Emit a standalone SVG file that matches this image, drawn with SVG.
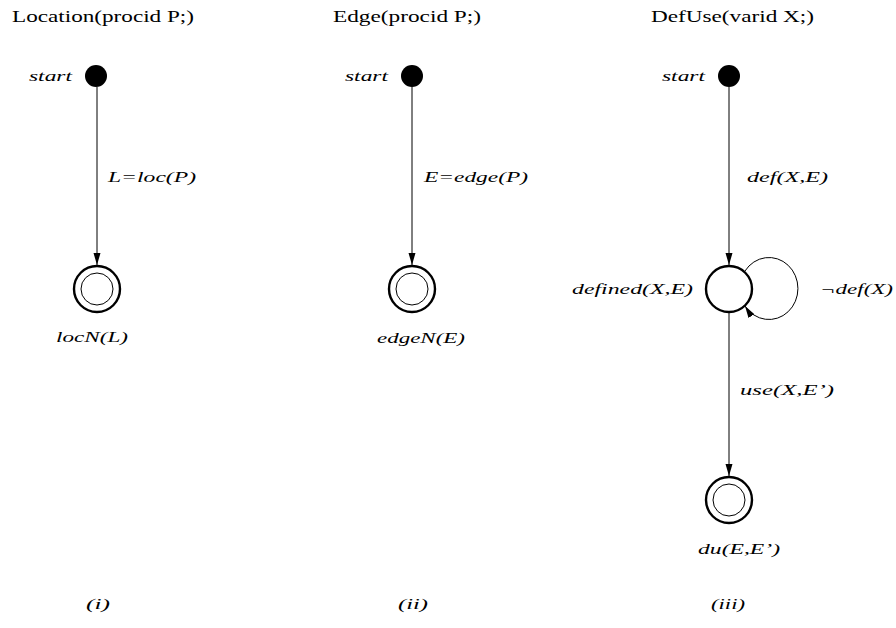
<svg xmlns="http://www.w3.org/2000/svg" width="896" height="628" viewBox="0 0 896 628">
  <style>
    text { font-family: "Liberation Serif", "DejaVu Serif", serif; font-size: 16px; fill: #000; }
    .it { font-style: italic; font-size: 15.5px; }
    .edge { fill: none; stroke: #000; stroke-width: 1; }
    .start { fill: #000; }
    .final-out { fill: #fff; stroke: #000; stroke-width: 2.4; }
    .final-in { fill: none; stroke: #000; stroke-width: 1; }
    .state { fill: #fff; stroke: #000; stroke-width: 2.4; }
  </style>
  <defs>
    <marker id="arrowL" viewBox="0 0 12 8" refX="12" refY="4" markerWidth="12" markerHeight="8" markerUnits="userSpaceOnUse" orient="auto">
      <path d="M0,0.5 L12,4 L0,7.5 z" fill="#000"/>
    </marker>
  </defs>
  <rect width="896" height="628" fill="#fff"/>

  <!-- titles -->
  <text x="12" y="22" textLength="182" lengthAdjust="spacingAndGlyphs">Location(procid P;)</text>
  <text x="333" y="22" textLength="148" lengthAdjust="spacingAndGlyphs">Edge(procid P;)</text>
  <text x="651" y="22" textLength="163" lengthAdjust="spacingAndGlyphs">DefUse(varid X;)</text>

  <!-- connectors -->
  <g id="connectors">
    <line class="edge" x1="97" y1="87" x2="97" y2="265" marker-end="url(#arrowL)"/>
    <line class="edge" x1="412" y1="87" x2="412" y2="265" marker-end="url(#arrowL)"/>
    <line class="edge" x1="729" y1="87" x2="729" y2="265" marker-end="url(#arrowL)"/>
    <path class="edge" d="M745,271 A29,31 0 1 1 745,306" marker-end="url(#arrowL)"/>
    <line class="edge" x1="729" y1="313" x2="729" y2="476" marker-end="url(#arrowL)"/>
    <text class="it" x="108" y="182" textLength="88" lengthAdjust="spacingAndGlyphs">L=loc(P)</text>
    <text class="it" x="424" y="182" textLength="104" lengthAdjust="spacingAndGlyphs">E=edge(P)</text>
    <text class="it" x="747" y="182" textLength="81" lengthAdjust="spacingAndGlyphs">def(X,E)</text>
    <text class="it" x="820" y="294" textLength="73" lengthAdjust="spacingAndGlyphs">¬def(X)</text>
    <text class="it" x="740" y="395" textLength="94" lengthAdjust="spacingAndGlyphs">use(X,E’)</text>
  </g>

  <!-- (i) Location -->
  <g id="loc-start">
    <circle class="start" cx="96" cy="76" r="11"/>
    <text class="it" x="29" y="81" textLength="43" lengthAdjust="spacingAndGlyphs">start</text>
  </g>
  <g id="loc-final">
    <circle class="final-out" cx="97" cy="289" r="23"/>
    <circle class="final-in" cx="97" cy="289" r="16"/>
    <text class="it" x="56" y="342" textLength="72" lengthAdjust="spacingAndGlyphs">locN(L)</text>
  </g>

  <!-- (ii) Edge -->
  <g id="edge-start">
    <circle class="start" cx="412" cy="76" r="11"/>
    <text class="it" x="345" y="81" textLength="43" lengthAdjust="spacingAndGlyphs">start</text>
  </g>
  <g id="edge-final">
    <circle class="final-out" cx="412" cy="289" r="23"/>
    <circle class="final-in" cx="412" cy="289" r="16"/>
    <text class="it" x="377" y="343" textLength="88" lengthAdjust="spacingAndGlyphs">edgeN(E)</text>
  </g>

  <!-- (iii) DefUse -->
  <g id="du-start">
    <circle class="start" cx="729" cy="76" r="11"/>
    <text class="it" x="662" y="81" textLength="43" lengthAdjust="spacingAndGlyphs">start</text>
  </g>
  <g id="du-defined">
    <circle class="state" cx="729" cy="289" r="23"/>
    <text class="it" x="572" y="294" textLength="121" lengthAdjust="spacingAndGlyphs">defined(X,E)</text>
  </g>
  <g id="du-final">
    <circle class="final-out" cx="729" cy="500" r="23"/>
    <circle class="final-in" cx="729" cy="500" r="16"/>
    <text class="it" x="698" y="554" textLength="82" lengthAdjust="spacingAndGlyphs">du(E,E’)</text>
  </g>

  <!-- panel captions -->
  <text class="it" x="86" y="609" textLength="24" lengthAdjust="spacingAndGlyphs">(i)</text>
  <text class="it" x="398" y="609" textLength="30" lengthAdjust="spacingAndGlyphs">(ii)</text>
  <text class="it" x="711" y="609" textLength="34" lengthAdjust="spacingAndGlyphs">(iii)</text>
</svg>
